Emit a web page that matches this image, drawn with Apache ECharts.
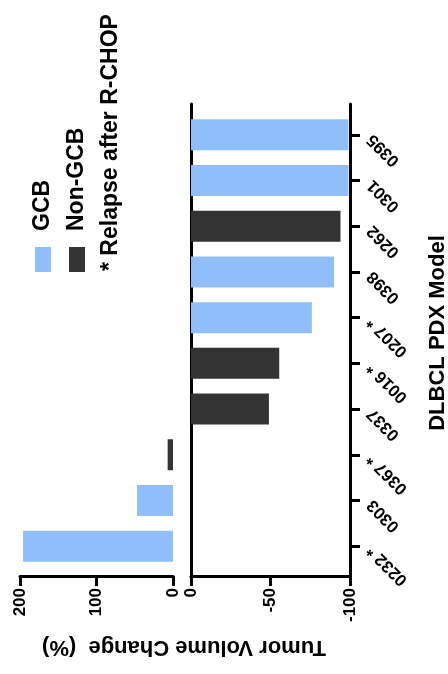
<!DOCTYPE html>
<html>
<head>
<meta charset="utf-8">
<script src="https://cdn.jsdelivr.net/npm/echarts@6/dist/echarts.min.js"></script>
<style>
  html, body { margin: 0; padding: 0; background: #fff; }
  #main { width: 448px; height: 674px; }
</style>
</head>
<body>
<div id="main"></div>
<script>
// 模型名称（从上到下）
const models = ['0395', '0301', '0262', '0398', '0207 *', '0016 *', '0337', '0367 *', '0303', '0232 *'];
const subtype = ['GCB', 'GCB', 'Non-GCB', 'GCB', 'GCB', 'Non-GCB', 'Non-GCB', 'Non-GCB', 'GCB', 'GCB'];
// 肿瘤体积变化 (%)
const change = [-99, -99, -94, -90, -76, -55.5, -49, 7, 47, 196];
// 两段坐标轴的刻度
const growthTicks = [0, 100, 200];
const shrinkTicks = [-100, -50, 0];

const colors = { 'GCB': '#8fbef8', 'Non-GCB': '#333333' };
const font = 'Liberation Sans';

let myChart = echarts.init(document.getElementById('main'));

let axisLine = { show: true, onZero: false, lineStyle: { color: '#000', width: 3 } };
let tickStyle = { show: true, length: 10, lineStyle: { color: '#000', width: 3 } };
let valueLabel = {
    rotate: 90, margin: 12, color: '#000',
    fontSize: 17, fontWeight: 'bold', fontFamily: font
};

let leftData = change.map(v => (v > 0 ? v : '-'));
let rightData = change.map(v => (v < 0 ? v : '-'));
let barColor = function (p) { return colors[subtype[p.dataIndex]]; };

let option = {
    animation: false,
    grid: [
        // 左：增长
        { left: 20, right: 275, top: 112, bottom: 105 },
        // 右：缩小（柱子）
        { left: 191, right: 98, top: 112, bottom: 105 },
        // 右：外框
        { left: 191, right: 98, top: 104, bottom: 98 }
    ],
    xAxis: [
        {
            gridIndex: 0, type: 'value',
            min: growthTicks[0], max: growthTicks[growthTicks.length - 1], interval: 100,
            inverse: true, offset: 7,
            axisLine: axisLine, axisTick: tickStyle, axisLabel: valueLabel,
            splitLine: { show: false }
        },
        {
            gridIndex: 1, type: 'value',
            min: shrinkTicks[0], max: shrinkTicks[shrinkTicks.length - 1],
            inverse: true, show: false
        },
        {
            gridIndex: 2, type: 'value',
            min: shrinkTicks[0], max: shrinkTicks[shrinkTicks.length - 1], interval: 50,
            inverse: true,
            axisLine: axisLine, axisTick: tickStyle, axisLabel: valueLabel,
            splitLine: { show: false }
        }
    ],
    yAxis: [
        {
            gridIndex: 0, type: 'category', data: models, inverse: true, show: false
        },
        {
            gridIndex: 1, type: 'category', data: models, inverse: true,
            position: 'right',
            axisLine: { show: false, onZero: false },
            axisTick: { show: true, alignWithLabel: true, length: 10, lineStyle: { color: '#000', width: 3 } },
            axisLabel: { show: false }
        },
        {
            gridIndex: 2, type: 'value', min: 0, max: 1, position: 'left',
            axisLine: axisLine, axisTick: { show: false }, axisLabel: { show: false },
            splitLine: { show: false }
        },
        {
            gridIndex: 2, type: 'value', min: 0, max: 1, position: 'right',
            axisLine: axisLine, axisTick: { show: false }, axisLabel: { show: false },
            splitLine: { show: false }
        }
    ],
    series: [
        {
            name: 'growth', type: 'bar', xAxisIndex: 0, yAxisIndex: 0,
            barWidth: 31, data: leftData,
            itemStyle: { color: barColor }
        },
        {
            name: 'shrink', type: 'bar', xAxisIndex: 1, yAxisIndex: 1,
            barWidth: 31, data: rightData,
            itemStyle: { color: barColor }
        }
    ]
};

myChart.setOption(option);

// 图例、标题和倒置的类目标签
let bigFont = 'bold 23px "Liberation Sans"';
let graphics = [
    { type: 'rect', shape: { x: 35, y: 247, width: 16, height: 25 }, style: { fill: colors['GCB'] } },
    { type: 'rect', shape: { x: 69, y: 247, width: 16, height: 25 }, style: { fill: colors['Non-GCB'] } },
    {
        type: 'text', x: 43, y: 231, rotation: Math.PI / 2,
        style: { text: 'GCB', fill: '#000', font: bigFont, textAlign: 'left', textVerticalAlign: 'middle' }
    },
    {
        type: 'text', x: 77, y: 231, rotation: Math.PI / 2,
        style: { text: 'Non-GCB', fill: '#000', font: bigFont, textAlign: 'left', textVerticalAlign: 'middle' }
    },
    {
        type: 'text', x: 111, y: 271, rotation: Math.PI / 2,
        style: { text: '* Relapse after R-CHOP', fill: '#000', font: bigFont, textAlign: 'left', textVerticalAlign: 'middle' }
    },
    {
        type: 'text', x: 184, y: 647, rotation: Math.PI,
        style: { text: 'Tumor Volume Change  (%)', fill: '#000', font: 'bold 22px "Liberation Sans"', textAlign: 'center', textVerticalAlign: 'middle' }
    },
    {
        type: 'text', x: 438, y: 333, rotation: Math.PI / 2,
        style: { text: 'DLBCL PDX Model', fill: '#000', font: 'bold 22px "Liberation Sans"', textAlign: 'center', textVerticalAlign: 'middle' }
    }
];

let axisX = myChart.convertToPixel({ xAxisIndex: 1 }, shrinkTicks[0]);
models.forEach(function (name, i) {
    let y = myChart.convertToPixel({ yAxisIndex: 1 }, i);
    graphics.push({
        type: 'text', x: axisX + 20, y: y + 2, rotation: Math.PI * 3 / 4,
        style: { text: name, fill: '#000', font: 'bold 17px "Liberation Sans"', textAlign: 'right', textVerticalAlign: 'middle' }
    });
});

myChart.setOption({ graphic: graphics });
</script>
</body>
</html>
